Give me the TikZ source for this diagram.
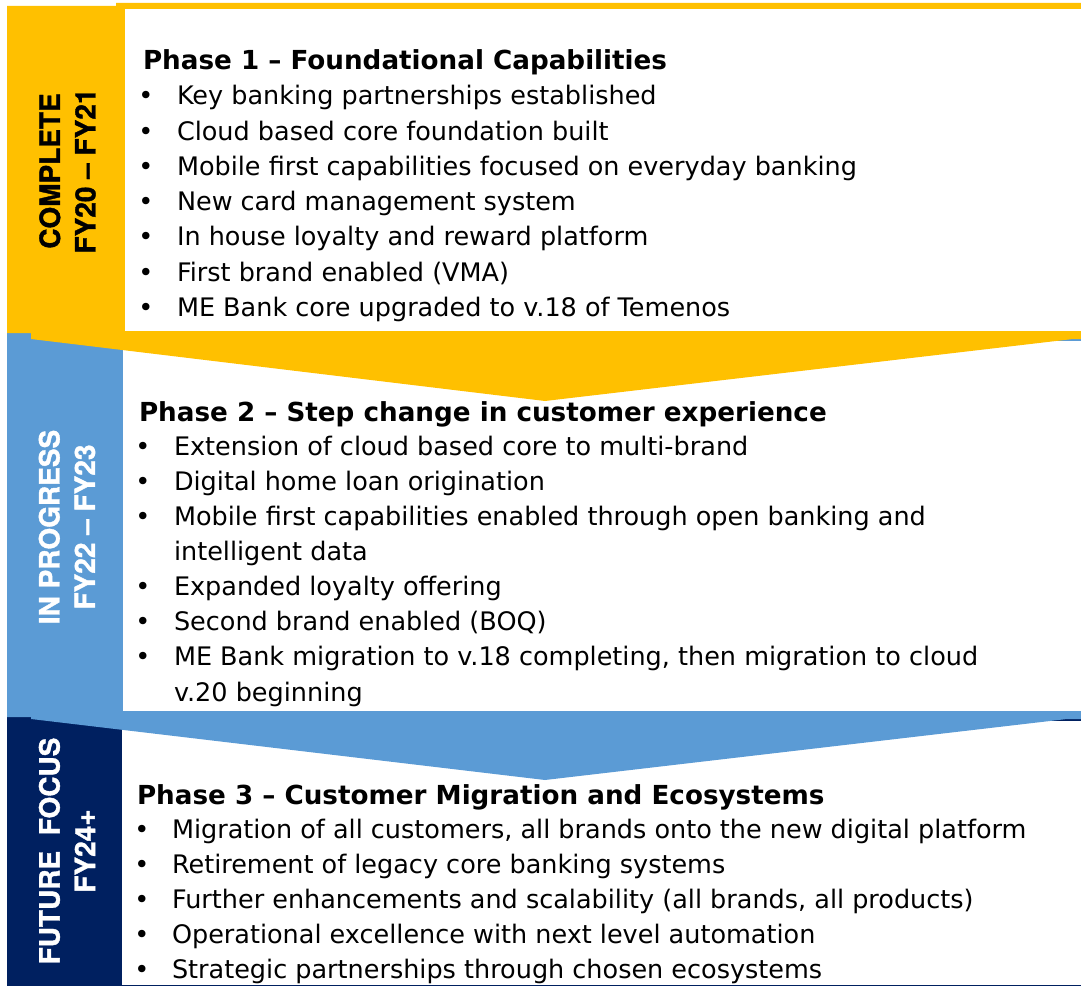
\documentclass[tikz,border=0pt]{standalone}
\usepackage{fontspec}
\setmainfont{DejaVu Sans}
\newfontfamily\labfont{texgyreheros-bold.otf}[FakeBold=1.3]
\definecolor{ylw}{HTML}{FFC000}
\definecolor{blu}{HTML}{5B9BD5}
\definecolor{nvy}{HTML}{002060}
\begin{document}
\begin{tikzpicture}[x=1pt,y=-1pt,inner sep=0pt,outer sep=0pt,
  body/.style={anchor=base west,font=\fontsize{25.5}{30}\selectfont},
  bul/.style={anchor=base,font=\fontsize{25.5}{30}\selectfont},
  ttl/.style={anchor=base west,font=\bfseries\fontsize{26.2}{30}\selectfont},
  side/.style={rotate=90,align=center,font=\labfont\fontsize{28}{35.5}\selectfont}]
\useasboundingbox (0,0) rectangle (1081,987);
% band 3 (navy)
\fill[nvy] (7,717) rectangle (1081,986);
\fill[white] (122,721) rectangle (1081,984.5);
% band 2 (blue)
\fill[blu] (7,333) -- (1081,333) -- (1081,719) -- (1067,719) -- (545,780) -- (31,719) -- (31,717) -- (7,717) -- cycle;
\fill[white] (123,341) rectangle (1081,711);
% band 1 (yellow)
\fill[ylw] (7,6) -- (116,6) -- (116,3) -- (1081,3) -- (1081,339) -- (1073,339) -- (545,401) -- (31,339) -- (31,333) -- (7,333) -- cycle;
\fill[white] (125,9) rectangle (1081,331);
% side labels
\node[side,text=black] (s1) at (67.5,171) {COMPLETE\\FY20 – FY21};
\node[side,text=white] (s2) at (67,527) {IN PROGRESS\\FY22 – FY23};
\node[side,text=white] (s3) at (67,851) {FUTURE\ \ FOCUS\\FY24+};
% phase 1
\node[ttl] (t1) at (143,70) {Phase 1 – Foundational Capabilities};
\foreach \i/\t in {0/Key banking partnerships established,
  1/Cloud based core foundation built,
  2/Mobile first capabilities focused on everyday banking,
  3/New card management system,
  4/In house loyalty and reward platform,
  5/First brand enabled (VMA),
  6/ME Bank core upgraded to v.18 of Temenos}{
  \node[bul] (pb\i) at (146,105+35.2*\i) {•};
  \node[body] (p\i) at (177,105+35.2*\i) {\t};
}
% phase 2
\node[ttl] (t2) at (139,421) {Phase 2 – Step change in customer experience};
\foreach \i/\t in {0/Extension of cloud based core to multi-brand,
  1/Digital home loan origination,
  2/Mobile first capabilities enabled through open banking and,
  4/Expanded loyalty offering,
  5/Second brand enabled (BOQ),
  6/{ME Bank migration to v.18 completing, then migration to cloud}}{
  \node[bul] (qb\i) at (143,455+35.15*\i) {•};
  \node[body] (q\i) at (174,455+35.15*\i) {\t};
}
\node[body] (q3) at (174,455+35.15*3) {intelligent data};
\node[body] (q7) at (174,455+35.15*7) {v.20 beginning};
% phase 3
\node[ttl] (t3) at (137,804) {Phase 3 – Customer Migration and Ecosystems};
\foreach \i/\t in {0/{Migration of all customers, all brands onto the new digital platform},
  1/Retirement of legacy core banking systems,
  2/{Further enhancements and scalability (all brands, all products)},
  3/Operational excellence with next level automation,
  4/Strategic partnerships through chosen ecosystems}{
  \node[bul] (rb\i) at (142,838+35.2*\i) {•};
  \node[body] (r\i) at (172,838+35.2*\i) {\t};
}
\end{tikzpicture}
\end{document}
